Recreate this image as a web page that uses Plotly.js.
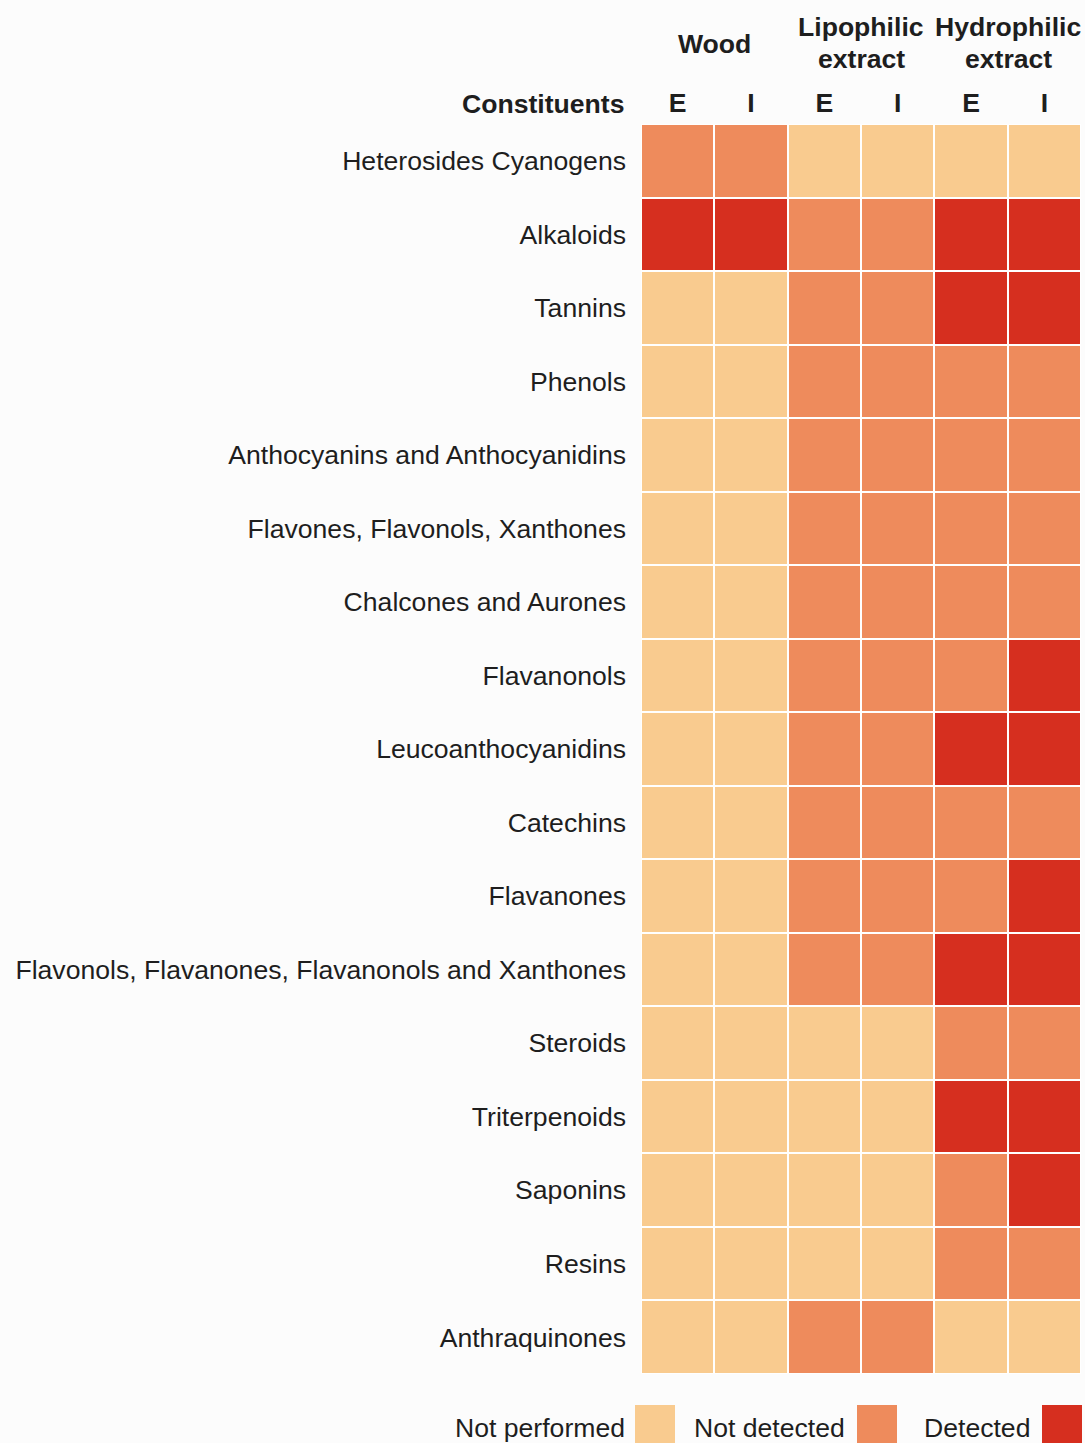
<!DOCTYPE html>
<html>
<head>
<meta charset="utf-8">
<script src="https://cdn.plot.ly/plotly-3.0.1.min.js"></script>
<style>html,body{margin:0;padding:0;background:#fcfcfc;}#chart{width:1085px;height:1443px;}</style>
</head>
<body>
<div id="chart"></div>
<script>
// Data
const constituents = [
  "Heterosides Cyanogens",
  "Alkaloids",
  "Tannins",
  "Phenols",
  "Anthocyanins and Anthocyanidins",
  "Flavones, Flavonols, Xanthones",
  "Chalcones and Aurones",
  "Flavanonols",
  "Leucoanthocyanidins",
  "Catechins",
  "Flavanones",
  "Flavonols, Flavanones, Flavanonols and Xanthones",
  "Steroids",
  "Triterpenoids",
  "Saponins",
  "Resins",
  "Anthraquinones"
];
const columns = ["Wood E", "Wood I", "Lipo E", "Lipo I", "Hydro E", "Hydro I"];
const columnLabels = ["E", "I", "E", "I", "E", "I"];
const groups = ["Wood", "Lipophilic<br>extract", "Hydrophilic<br>extract"];
const statusLabels = ["Not performed", "Not detected", "Detected"];
// 0 = not performed, 1 = not detected, 2 = detected
const woodE  = [1,2,0,0,0,0,0,0,0,0,0,0,0,0,0,0,0];
const woodI  = [1,2,0,0,0,0,0,0,0,0,0,0,0,0,0,0,0];
const lipoE  = [0,1,1,1,1,1,1,1,1,1,1,1,0,0,0,0,1];
const lipoI  = [0,1,1,1,1,1,1,1,1,1,1,1,0,0,0,0,1];
const hydroE = [0,2,2,1,1,1,1,1,2,1,1,2,1,2,1,1,0];
const hydroI = [0,2,2,1,1,1,1,2,2,1,2,2,1,2,2,1,0];

const colors = ["#F9CB8F", "#EE8B5C", "#D62F1F"];
const seriesCols = [woodE, woodI, lipoE, lipoI, hydroE, hydroI];
const z = constituents.map((c, i) => seriesCols.map(s => s[i]));

const font = "Liberation Sans, Arial, Helvetica, sans-serif";
const txt = "#1e1e1e";
const fs = 26.6;

const trace = {
  type: "heatmap",
  x: columns,
  y: constituents,
  z: z,
  zmin: 0, zmax: 2,
  colorscale: [[0, colors[0]], [0.3333, colors[0]], [0.3334, colors[1]], [0.6666, colors[1]], [0.6667, colors[2]], [1, colors[2]]],
  showscale: false,
  xgap: 2, ygap: 2,
  hoverinfo: "skip"
};

const W = 1085, H = 1443;
const px = x => x / W;
const py = y => 1 - y / H;

const annotations = [];
// group headers (each line placed separately for tighter line spacing)
const groupCenters = [714, 861, 1008];
groups.forEach((g, i) => {
  const lines = g.split("<br>");
  const ys = lines.length === 1 ? [44] : [27, 59];
  lines.forEach((ln, j) => {
    annotations.push({xref: "paper", yref: "paper", x: px(groupCenters[i]), y: py(ys[j]),
      text: "<b>" + ln + "</b>", showarrow: false, xanchor: "center", yanchor: "middle",
      font: {family: font, size: fs, color: txt}});
  });
});
annotations.push({xref: "paper", yref: "paper", x: px(627), y: py(104), text: "<b>Constituents</b>",
  showarrow: false, xanchor: "right", yanchor: "middle", font: {family: font, size: fs, color: txt}});
// legend
const legendText = [[627, 0], [847, 1], [1032, 2]];
const legendSq = [[635, 675], [857, 897], [1042, 1082]];
legendText.forEach(([x, k]) => {
  annotations.push({xref: "paper", yref: "paper", x: px(x), y: py(1428), text: statusLabels[k],
    showarrow: false, xanchor: "right", yanchor: "middle", font: {family: font, size: fs, color: txt}});
});
const shapes = legendSq.map(([x0, x1], k) => ({type: "rect", xref: "paper", yref: "paper",
  x0: px(x0), x1: px(x1), y0: py(1443), y1: py(1405), line: {width: 0}, fillcolor: colors[k]}));

const layout = {
  width: W, height: H,
  margin: {l: 0, r: 0, t: 0, b: 0},
  paper_bgcolor: "#fcfcfc",
  plot_bgcolor: "#ffffff",
  xaxis: {domain: [px(641), px(1081)], side: "top", tickmode: "array", tickvals: columns, ticktext: columnLabels.map(t => "<b>" + t + "</b>"),
    tickfont: {family: font, size: fs, color: txt}, ticks: "", ticklabelstandoff: 6, showgrid: false, zeroline: false, showline: false, fixedrange: true},
  yaxis: {domain: [py(1374), py(124)], autorange: "reversed", tickfont: {family: font, size: fs, color: txt},
    ticks: "", ticklabelstandoff: 14, showgrid: false, zeroline: false, showline: false, fixedrange: true},
  annotations: annotations,
  shapes: shapes,
  font: {family: font, color: txt}
};

Plotly.newPlot("chart", [trace], layout, {displayModeBar: false, staticPlot: true});
</script>
</body>
</html>
